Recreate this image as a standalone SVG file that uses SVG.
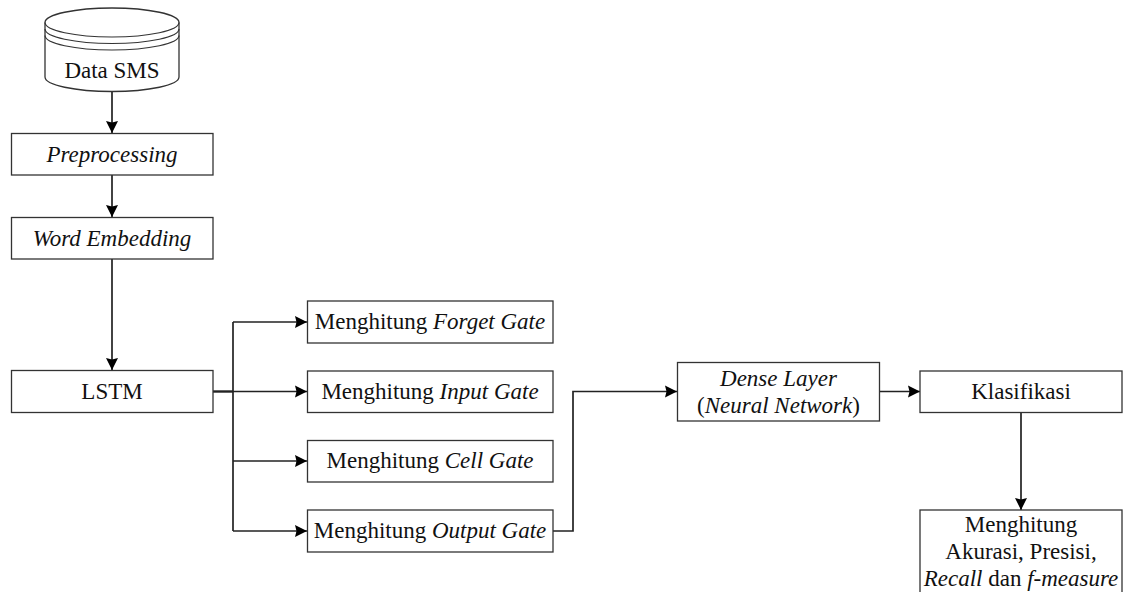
<svg xmlns="http://www.w3.org/2000/svg" width="1126" height="592" viewBox="0 0 1126 592">
<style>
.b{fill:#fff;stroke:#333;stroke-width:1.3}
.t{font-family:"Liberation Serif","Times New Roman",serif;font-size:23px;fill:#111;text-anchor:middle}
.i{font-style:italic}
.c{fill:none;stroke:#222;stroke-width:1.7}
.d{fill:none;stroke:#333;stroke-width:1.2}
</style>
<defs><marker id="a" markerUnits="userSpaceOnUse" markerWidth="12" markerHeight="13" refX="12" refY="6.500" orient="auto"><path d="M0 0.500L12 6.500L0 12.500L1.500 6.500Z" fill="#000"/></marker></defs>
<rect width="1126" height="592" fill="#fff"/>
<g id="connectors">
<path class="c" marker-end="url(#a)" d="M112 91V133"/>
<path class="c" marker-end="url(#a)" d="M112 175V217"/>
<path class="c" marker-end="url(#a)" d="M112 259V370"/>
<path class="c" style="stroke-width:2.400" d="M213 391.500H233"/>
<path class="c" marker-end="url(#a)" d="M233 391.500H307"/>
<path class="c" marker-end="url(#a)" d="M233 322H307"/>
<path class="c" marker-end="url(#a)" d="M233 461H307"/>
<path class="c" marker-end="url(#a)" d="M233 531H307"/>
<path class="c" d="M233 322V531"/>
<path class="c" marker-end="url(#a)" d="M553 531H573V391.500H677"/>
<path class="c" marker-end="url(#a)" d="M880 391.500H920"/>
<path class="c" marker-end="url(#a)" d="M1021 412V510"/>
</g>
<g id="n1"><path class="b" d="M45 22.500A67 14.500 0 0 1 179 22.500V77A67 14.500 0 0 1 45 77Z"/>
<path class="d" d="M45 22.500A67 14.500 0 0 0 179 22.500M45 29A67 14.500 0 0 0 179 29M45 35.500A67 14.500 0 0 0 179 35.500"/>
<text class="t" x="112" y="78">Data SMS</text></g>
<g id="n2"><rect class="b" x="11.500" y="133.500" width="201.500" height="41.500"/><text class="t i" x="112" y="162">Preprocessing</text></g>
<g id="n3"><rect class="b" x="11.500" y="217.500" width="201.500" height="41.500"/><text class="t i" x="112" y="245.500">Word Embedding</text></g>
<g id="n4"><rect class="b" x="11.500" y="370.500" width="201.500" height="42"/><text class="t" x="112" y="399">LSTM</text></g>
<g id="n5"><rect class="b" x="307.500" y="301" width="245.500" height="42"/><text class="t" x="430" y="329">Menghitung <tspan class="i">Forget Gate</tspan></text></g>
<g id="n6"><rect class="b" x="307.500" y="371" width="245.500" height="41.500"/><text class="t" x="430" y="398.500">Menghitung <tspan class="i">Input Gate</tspan></text></g>
<g id="n7"><rect class="b" x="307.500" y="440.500" width="245.500" height="41.500"/><text class="t" x="430" y="468">Menghitung <tspan class="i">Cell Gate</tspan></text></g>
<g id="n8"><rect class="b" x="307.500" y="510" width="245.500" height="42"/><text class="t" x="430" y="538">Menghitung <tspan class="i">Output Gate</tspan></text></g>
<g id="n9"><rect class="b" x="677.500" y="362.500" width="202" height="58.500"/><text class="t" x="778.500" y="385.500"><tspan class="i">Dense Layer</tspan></text><text class="t" x="778.500" y="413">(<tspan class="i">Neural Network</tspan>)</text></g>
<g id="n10"><rect class="b" x="920" y="371" width="202" height="41.500"/><text class="t" x="1021" y="398.500">Klasifikasi</text></g>
<g id="n11"><rect class="b" x="920" y="510" width="202" height="84"/><text class="t" x="1021" y="531.500">Menghitung</text><text class="t" x="1021" y="559">Akurasi, Presisi,</text><text class="t" x="1021" y="585.500"><tspan class="i">Recall</tspan> dan <tspan class="i">f-measure</tspan></text></g>
</svg>
